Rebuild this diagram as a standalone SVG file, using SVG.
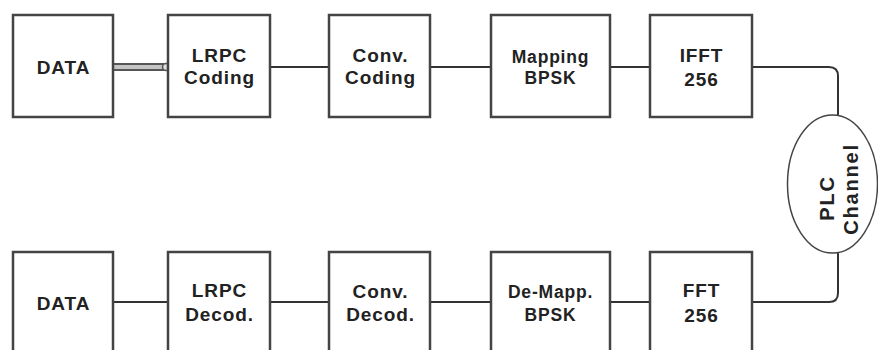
<svg xmlns="http://www.w3.org/2000/svg" width="878" height="350" viewBox="0 0 878 350">
<style>
.box{fill:#fff;stroke:#444;stroke-width:2.5}
.t{font-family:"Liberation Sans",Arial,sans-serif;font-weight:bold;font-size:19px;letter-spacing:0.9px;fill:#222;text-anchor:middle}
.s{font-size:17.5px;letter-spacing:0.8px}
.v{font-size:20px;letter-spacing:1.8px}
.c{fill:none;stroke:#333;stroke-width:2}
</style>
<rect width="878" height="350" fill="#fff"/>
<g id="connectors">
<path d="M113 67 H166" stroke="#555" stroke-width="8" fill="none"/>
<path d="M113 67 H166" stroke="#c4c4c4" stroke-width="4" fill="none"/>
<circle cx="166" cy="67" r="3.5" fill="#ddd" stroke="#555" stroke-width="1.5"/>
<path class="c" d="M270 67 H329"/>
<path class="c" d="M430 67 H491"/>
<path class="c" d="M610 67 H650"/>
<path class="c" d="M752 67 H829 Q838 67 838 76 V116"/>
<path class="c" d="M113 302 H168"/>
<path class="c" d="M270 302 H329"/>
<path class="c" d="M430 302 H491"/>
<path class="c" d="M610 302 H650"/>
<path class="c" d="M752 302 H829 Q838 302 838 293 V253"/>
</g>
<g id="data-tx"><rect class="box" x="13" y="15" width="100" height="102"/><text class="t" x="63.5" y="74">DATA</text></g>
<g id="lrpc-coding"><rect class="box" x="168" y="15" width="102" height="102"/><text class="t" x="219.5" y="62">LRPC</text><text class="t" x="219.5" y="84">Coding</text></g>
<g id="conv-coding"><rect class="box" x="329" y="15" width="101" height="102"/><text class="t" x="380.5" y="62">Conv.</text><text class="t" x="380.5" y="84">Coding</text></g>
<g id="mapping"><rect class="box" x="491" y="15" width="119" height="102"/><text class="t s" x="550.5" y="63">Mapping</text><text class="t s" x="550.5" y="84">BPSK</text></g>
<g id="ifft"><rect class="box" x="650" y="15" width="102" height="102"/><text class="t" x="701.5" y="62">IFFT</text><text class="t" x="701.5" y="86">256</text></g>
<g id="plc"><ellipse cx="832.5" cy="184" rx="45" ry="69" fill="#fff" stroke="#444" stroke-width="1.5"/><text class="t v" transform="translate(834 198) rotate(-90)" x="0" y="0">PLC</text><text class="t v" transform="translate(858 189) rotate(-90)" x="0" y="0">Channel</text></g>
<g id="data-rx"><rect class="box" x="13" y="252" width="100" height="110"/><text class="t" x="63.5" y="310">DATA</text></g>
<g id="lrpc-decod"><rect class="box" x="168" y="252" width="102" height="110"/><text class="t" x="219.5" y="297">LRPC</text><text class="t" x="219.5" y="321">Decod.</text></g>
<g id="conv-decod"><rect class="box" x="329" y="252" width="101" height="110"/><text class="t" x="380.5" y="298">Conv.</text><text class="t" x="380.5" y="321">Decod.</text></g>
<g id="demapp"><rect class="box" x="491" y="252" width="119" height="110"/><text class="t s" x="550.5" y="298">De-Mapp.</text><text class="t s" x="550.5" y="321">BPSK</text></g>
<g id="fft"><rect class="box" x="650" y="252" width="102" height="110"/><text class="t" x="701.5" y="297">FFT</text><text class="t" x="701.5" y="322">256</text></g>
</svg>
